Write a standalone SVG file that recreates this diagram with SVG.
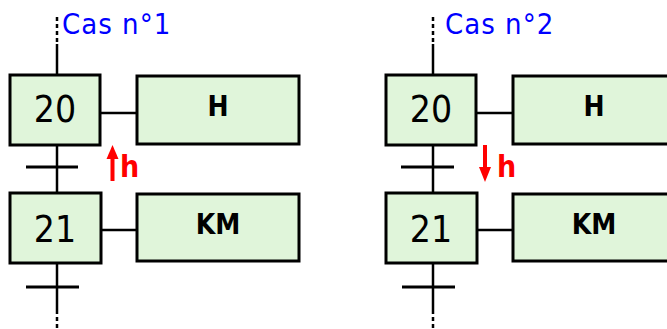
<svg xmlns="http://www.w3.org/2000/svg" width="667" height="329" viewBox="0 0 667 329">
  <style>
    .step { fill: #e0f5da; stroke: #000; stroke-width: 3; }
    .act { fill: #e0f5da; stroke: #000; stroke-width: 3; }
    .num { font-family: "DejaVu Sans Condensed", "DejaVu Sans", sans-serif; font-size: 37px; fill: #000; text-anchor: middle; }
    .lbl { font-family: "DejaVu Sans Condensed", "DejaVu Sans", sans-serif; font-size: 28px; font-weight: bold; fill: #000; text-anchor: middle; }
    .case { font-family: "DejaVu Sans Condensed", "DejaVu Sans", sans-serif; font-size: 29px; fill: #0000ff; letter-spacing: 1px; }
    .cond { font-family: "DejaVu Sans Condensed", "DejaVu Sans", sans-serif; font-size: 30px; font-weight: bold; fill: #ff0000; }
    .wire { stroke: #000; stroke-width: 2.5; fill: none; }
    .dash { stroke: #000; stroke-width: 2.5; fill: none; stroke-dasharray: 4 3; }
    .bar { stroke: #000; stroke-width: 3; }
  </style>

  <!-- Case 1 -->
  <g id="connectors-1">
    <line class="dash" x1="57" y1="17" x2="57" y2="44"/>
    <line class="wire" x1="57" y1="44" x2="57" y2="75"/>
    <line class="wire" x1="57" y1="145" x2="57" y2="193"/>
    <line class="wire" x1="57" y1="263" x2="57" y2="310"/>
    <line class="dash" x1="57" y1="310" x2="57" y2="329"/>
    <line class="bar" x1="26" y1="167" x2="78" y2="167"/>
    <line class="bar" x1="26" y1="287" x2="79" y2="287"/>
    <line class="wire" x1="100" y1="113" x2="137" y2="113"/>
    <line class="wire" x1="101" y1="230" x2="137" y2="230"/>
  </g>
  <text class="case" x="62" y="34">Cas n°1</text>
  <g id="step-20-a">
    <rect class="step" x="10" y="75" width="90" height="70"/>
    <text class="num" x="55" y="122">20</text>
  </g>
  <g id="action-h-a">
    <rect class="act" x="137" y="76" width="162" height="68"/>
    <text class="lbl" x="218" y="116">H</text>
  </g>
  <g id="cond-a">
    <polygon points="112.5,145 106.5,159 118.5,159" fill="#ff0000"/>
    <rect x="110.5" y="158" width="4" height="23" fill="#ff0000"/>
    <text class="cond" x="120" y="177">h</text>
  </g>
  <g id="step-21-a">
    <rect class="step" x="10" y="193" width="91" height="70"/>
    <text class="num" x="55" y="242">21</text>
  </g>
  <g id="action-km-a">
    <rect class="act" x="137" y="194" width="162" height="67"/>
    <text class="lbl" x="218" y="234">KM</text>
  </g>

  <!-- Case 2 -->
  <g id="connectors-2">
    <line class="dash" x1="433" y1="17" x2="433" y2="44"/>
    <line class="wire" x1="433" y1="44" x2="433" y2="75"/>
    <line class="wire" x1="433" y1="145" x2="433" y2="193"/>
    <line class="wire" x1="433" y1="263" x2="433" y2="310"/>
    <line class="dash" x1="433" y1="310" x2="433" y2="329"/>
    <line class="bar" x1="401" y1="167" x2="454" y2="167"/>
    <line class="bar" x1="402" y1="287" x2="455" y2="287"/>
    <line class="wire" x1="476" y1="113" x2="513" y2="113"/>
    <line class="wire" x1="477" y1="230" x2="513" y2="230"/>
  </g>
  <text class="case" x="445" y="34">Cas n°2</text>
  <g id="step-20-b">
    <rect class="step" x="386" y="75" width="90" height="70"/>
    <text class="num" x="431" y="122">20</text>
  </g>
  <g id="action-h-b">
    <rect class="act" x="513" y="76" width="162" height="68"/>
    <text class="lbl" x="594" y="116">H</text>
  </g>
  <g id="cond-b">
    <rect x="483" y="145" width="4" height="23" fill="#ff0000"/>
    <polygon points="479,167 491,167 485,182" fill="#ff0000"/>
    <text class="cond" x="497" y="177">h</text>
  </g>
  <g id="step-21-b">
    <rect class="step" x="386" y="193" width="91" height="70"/>
    <text class="num" x="431" y="242">21</text>
  </g>
  <g id="action-km-b">
    <rect class="act" x="513" y="194" width="162" height="67"/>
    <text class="lbl" x="594" y="234">KM</text>
  </g>
</svg>
